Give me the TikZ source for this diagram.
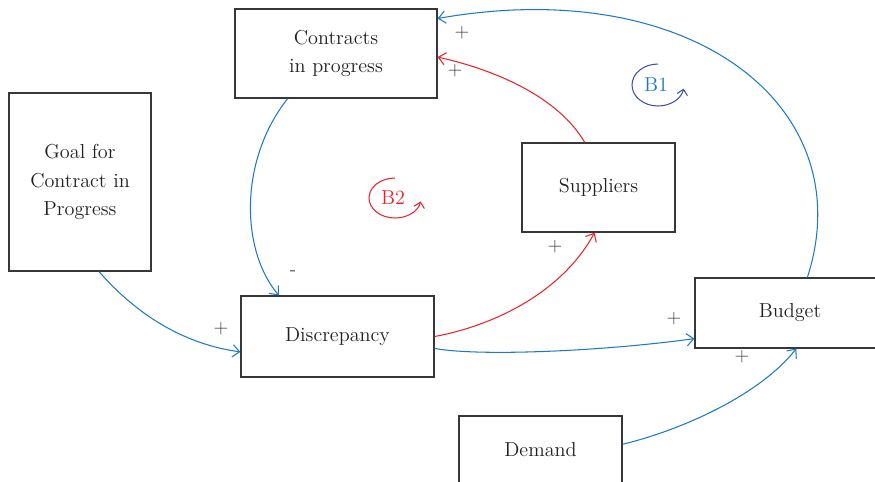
\documentclass[tikz,border=0pt]{standalone}
\usepackage{tikz}
\usetikzlibrary{positioning,arrows.meta}

\definecolor{boxgray}{RGB}{55,55,55}
\definecolor{linkblue}{RGB}{30,120,200}
\definecolor{linkred}{RGB}{235,35,40}
\definecolor{loopblue}{RGB}{60,80,170}
\definecolor{signgray}{RGB}{60,60,60}
\definecolor{textdark}{RGB}{35,31,32}

\begin{document}
\begin{tikzpicture}[x=0.02cm,y=-0.02cm,
						stock/.style={draw=boxgray,line width=0.7pt,align=center,inner sep=0pt,
							text=textdark,font=\fontsize{11.5}{15.5}\selectfont},
						bluelink/.style={draw=linkblue,line width=0.6pt,-{Straight Barb[length=4pt,width=7pt]}},
						redlink/.style={draw=linkred,line width=0.6pt,-{Straight Barb[length=4pt,width=7pt]}},
						sign/.style={text=signgray,inner sep=0pt,font=\fontsize{11}{12}\selectfont},
						looptag/.style={inner sep=0pt,font=\fontsize{11.5}{13}\selectfont}]

		\useasboundingbox (0,0) rectangle (875,481);
		\clip (0,0) rectangle (875,481);

		\node[stock,minimum width=4.04cm,minimum height=1.78cm]	(contracts)		at (336,53.5)	{Contracts\\in progress};
		\node[stock,minimum width=2.84cm,minimum height=3.56cm,
			font=\fontsize{11.5}{16.3}\selectfont]				(goal)			at (80,182)		{Goal for\\Contract in\\Progress};
		\node[stock,minimum width=3.06cm,minimum height=1.78cm]	(suppliers)		at (598.5,187.5){Suppliers};
		\node[stock,minimum width=3.86cm,minimum height=1.62cm]	(discrepancy)	at (337.5,336.5){Discrepancy};
		\node[stock,minimum width=3.80cm,minimum height=1.40cm]	(budget)		at (790,313)	{Budget};
		\node[stock,minimum width=3.26cm,minimum height=1.36cm]	(demand)		at (540.5,450)	{Demand};

		\draw[bluelink] (budget.64) .. controls +(55,-170) and +(255,-45) .. (contracts.19);
		\draw[redlink] (suppliers.107) .. controls +(-25,-43) and +(63,14) .. (contracts.-2);
		\draw[bluelink] (contracts.223) .. controls +(-49,62) and +(-38,-45) .. (discrepancy.145);
		\draw[bluelink] (goal.-78) .. controls +(41,47) and +(-52,-7) .. (discrepancy.189);
		\draw[redlink] (discrepancy.east) .. controls +(65,-12) and +(-30,56) .. (suppliers.265);
		\draw[bluelink] (discrepancy.-7) .. controls +(43,8) and +(-95,13) .. (budget.195);
		\draw[bluelink] (demand.4) .. controls +(58,-14) and +(-37,47) .. (budget.-80);

		\node[sign] (s1) at (462,33)	{+};
		\node[sign] (s2) at (455,71)	{+};
		\node[sign] (s3) at (293,273)	{-};
		\node[sign] (s4) at (221,329)	{+};
		\node[sign] (s5) at (555,247)	{+};
		\node[sign] (s6) at (674,319)	{+};
		\node[sign] (s7) at (742,357)	{+};

		\node[looptag,text=linkblue] (b1) at (656,85)	{B1};
		\draw[loopblue,line width=0.6pt,-{Straight Barb[length=3pt,width=6pt]}]
			([xshift=0.04cm,yshift=0.42cm]b1.center) arc[start angle=90,end angle=350,x radius=0.52cm,y radius=0.42cm];
		\node[looptag,text=linkred] (b2) at (393,198)	{B2};
		\draw[linkred,line width=0.6pt,-{Straight Barb[length=3pt,width=6pt]}]
			([xshift=0.04cm,yshift=0.40cm]b2.center) arc[start angle=90,end angle=350,x radius=0.52cm,y radius=0.40cm];
	\end{tikzpicture}
\end{document}
